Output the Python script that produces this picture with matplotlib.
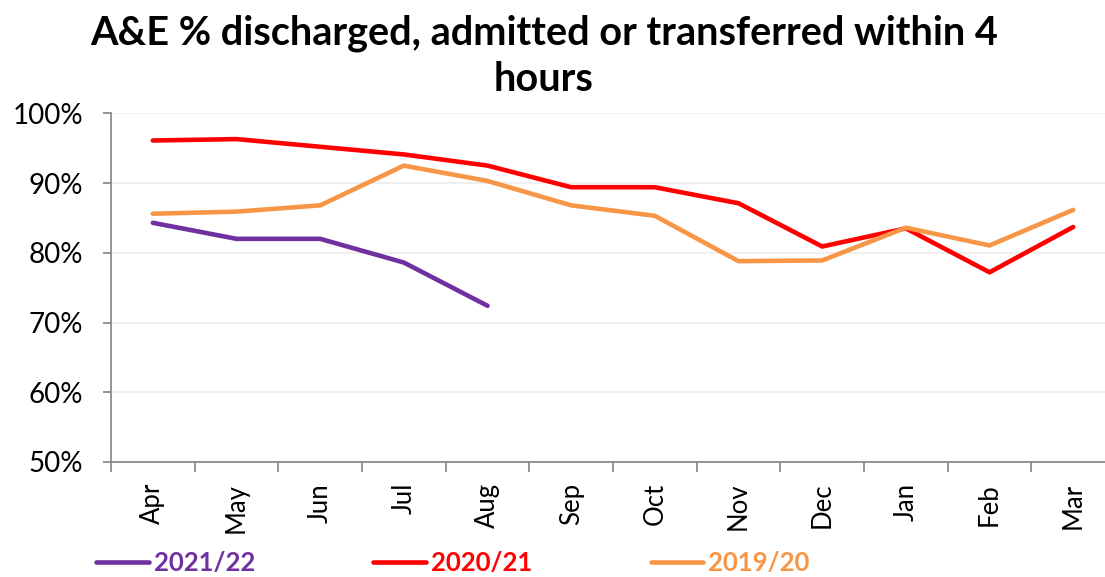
import matplotlib.pyplot as plt
from matplotlib.ticker import FixedLocator, PercentFormatter

months = ['Apr', 'May', 'Jun', 'Jul', 'Aug', 'Sep', 'Oct', 'Nov', 'Dec', 'Jan', 'Feb', 'Mar']
y2122 = [84.3, 82.0, 82.0, 78.6, 72.4]
y2021 = [96.1, 96.3, 95.2, 94.1, 92.5, 89.4, 89.4, 87.1, 80.9, 83.5, 77.2, 83.7]
y1920 = [85.6, 85.9, 86.8, 92.5, 90.3, 86.8, 85.3, 78.8, 78.9, 83.6, 81.05, 86.15]

plt.rcParams['font.family'] = ['Lato', 'DejaVu Sans']

fig = plt.figure(figsize=(11.05, 5.77), dpi=100)
ax = fig.add_axes([111/1105, 1 - 462/577, 1 - 111/1105, (462 - 113.3)/577])

ax.plot(range(len(y2122)), y2122, color='#7030A0', lw=3.3, solid_capstyle='round', label='2021/22')
ax.plot(range(len(y2021)), y2021, color='#FF0000', lw=3.3, solid_capstyle='round', label='2020/21')
ax.plot(range(len(y1920)), y1920, color='#F79646', lw=3.3, solid_capstyle='round', label='2019/20')

ax.set_ylim(50, 100)
ax.set_xlim(-0.5, 11.38)
ax.set_yticks(range(50, 101, 10))
ax.yaxis.set_major_formatter(PercentFormatter(decimals=0))
ax.grid(axis='y', color='#EFEFEF', lw=1.5)
ax.set_axisbelow(True)

ax.set_xticks(range(12))
ax.set_xticklabels(months, rotation=90, fontsize=18.5)
ax.xaxis.set_minor_locator(FixedLocator([i - 0.5 for i in range(13)]))
ax.tick_params(axis='x', which='major', length=0, pad=15)
ax.tick_params(axis='x', which='minor', length=7.5, color='#8C8C8C', width=1.3)
ax.tick_params(axis='y', length=6, color='#8C8C8C', width=1.3, labelsize=20, pad=14)

for s in ['top', 'right']:
    ax.spines[s].set_visible(False)
for s in ['left', 'bottom']:
    ax.spines[s].set_color('#8C8C8C')
    ax.spines[s].set_linewidth(1.3)

fig.text(0.492, 0.975, 'A&E % discharged, admitted or transferred within 4\nhours',
         ha='center', va='top', fontsize=28.5, fontweight='bold', linespacing=1.3)

leg = fig.legend(loc='center left', bbox_to_anchor=(96/1105, 1 - 563/577), ncol=3,
                 frameon=False, handlelength=2.05, handletextpad=0.2,
                 columnspacing=4.6, borderaxespad=0, borderpad=0,
                 prop={'weight': 'bold', 'size': 18.5}, labelcolor='linecolor')

fig.savefig('out.png', dpi=100)
